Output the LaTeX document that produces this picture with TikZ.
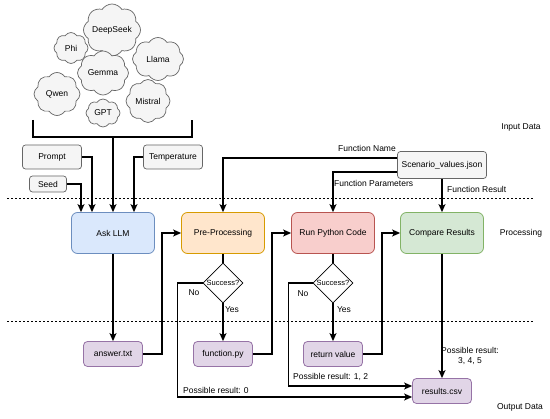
\documentclass[tikz,border=0pt]{standalone}
\usepackage{fontspec}
\setmainfont{Liberation Sans}
\usetikzlibrary{shapes.symbols,shapes.geometric,arrows.meta}
\definecolor{grayfill}{HTML}{F5F5F5}
\definecolor{grayline}{HTML}{666666}
\definecolor{bluefill}{HTML}{DAE8FC}
\definecolor{blueline}{HTML}{6C8EBF}
\definecolor{orangefill}{HTML}{FFE6CC}
\definecolor{orangeline}{HTML}{D79B00}
\definecolor{redfill}{HTML}{F8CECC}
\definecolor{redline}{HTML}{B85450}
\definecolor{greenfill}{HTML}{D5E8D4}
\definecolor{greenline}{HTML}{82B366}
\definecolor{purplefill}{HTML}{E1D5E7}
\definecolor{purpleline}{HTML}{9673A6}
\tikzset{
  cloudbox/.style={cloud, cloud puffs=8, cloud puff arc=115, cloud ignores aspect, draw=grayline, fill=grayfill, line width=0.7pt, inner sep=0pt},
  graybox/.style={draw=grayline, fill=grayfill, rounded corners=3pt, line width=0.7pt, minimum height=24pt, inner sep=2pt},
  procbox/.style={rounded corners=6pt, line width=0.8pt, minimum width=83pt, minimum height=41pt},
  outbox/.style={draw=purpleline, fill=purplefill, rounded corners=4pt, line width=0.8pt, minimum width=59pt, minimum height=25pt},
  decision/.style={diamond, draw=black, fill=white, line width=0.8pt, minimum width=40pt, minimum height=40pt, inner sep=0pt, font=\fontsize{7.5}{9}\selectfont},
  arr/.style={line width=1.2pt, -{Stealth[length=8pt,width=7pt,inset=2pt]}},
  plain/.style={line width=1.2pt},
  dotline/.style={line width=0.7pt, dash pattern=on 2pt off 2pt},
  lbl/.style={inner sep=0pt}
}
\begin{document}
\begin{tikzpicture}[x=1pt,y=-1pt, font=\fontsize{8.5}{10}\selectfont]
\useasboundingbox[fill=white] (0,0) rectangle (550,419);

% clouds
\node[cloudbox, minimum width=57pt, minimum height=52pt] (deepseek) at (112,30) {DeepSeek};
\node[cloudbox, minimum width=34pt, minimum height=31pt] (phi) at (71,48) {Phi};
\node[cloudbox, minimum width=51pt, minimum height=43pt] (llama) at (158,59) {Llama};
\node[cloudbox, minimum width=51pt, minimum height=44pt] (gemma) at (103,73) {Gemma};
\node[cloudbox, minimum width=46pt, minimum height=43pt] (qwen) at (57,94) {Qwen};
\node[cloudbox, minimum width=44pt, minimum height=43pt] (mistral) at (148,101) {Mistral};
\node[cloudbox, minimum width=34pt, minimum height=28pt] (gpt) at (103,113) {GPT};

% bracket
\coordinate (bl) at (33,120);
\coordinate (br) at (192,120);
\coordinate (bc) at (113,137);
\draw[plain] (bl) |- (bc) -| (br);

% inputs
\node[graybox, minimum width=59pt] (prompt) at (52,157) {Prompt};
\node[graybox, minimum width=37pt, minimum height=16pt] (seed) at (48,184) {Seed};
\node[graybox, minimum width=59pt] (temp) at (173,157) {Temperature};
\node[graybox, minimum width=89pt, minimum height=27pt] (scen) at (442,165) {Scenario\_values.json};

% separators
\coordinate (s1l) at (7,198);
\coordinate (s1r) at (533,198);
\coordinate (s2l) at (7,321);
\coordinate (s2r) at (533,321);
\draw[dotline] (s1l) -- (s1r);
\draw[dotline] (s2l) -- (s2r);

% processing
\node[procbox, draw=blueline, fill=bluefill] (ask) at (113,233) {Ask LLM};
\node[procbox, draw=orangeline, fill=orangefill] (pre) at (223,233) {Pre-Processing};
\node[procbox, draw=redline, fill=redfill] (run) at (333,233) {Run Python Code};
\node[procbox, draw=greenline, fill=greenfill] (cmp) at (442,233) {Compare Results};

\node[decision] (d1) at (223,283) {\makebox[0pt]{Success?}};
\node[decision] (d2) at (333,283) {\makebox[0pt]{Success?}};

% outputs
\node[outbox] (ans) at (113,354) {answer.txt};
\node[outbox] (fn) at (223,354) {function.py};
\node[outbox] (ret) at (333,354) {return value};
\node[outbox] (res) at (442,391) {results.csv};

% labels
\node[lbl] (inlbl) at (521,127) {Input Data};
\node[lbl] (proclbl) at (521,233) {Processing};
\node[lbl] (outlbl) at (520,407) {Output Data};
\node[lbl, anchor=east] (fname) at (396,148) {Function Name};
\node[lbl, anchor=west] (fparam) at (334,183) {Function Parameters};
\node[lbl, anchor=west] (fres) at (447,189) {Function Result};
\node[lbl] (no1) at (194,293) {No};
\node[lbl] (no2) at (303,294) {No};
\node[lbl] (yes1) at (232,310) {Yes};
\node[lbl] (yes2) at (344,310) {Yes};
\node[lbl, anchor=west] (pr0) at (183,390) {Possible result: 0};
\node[lbl, anchor=west] (pr12) at (293,377) {Possible result: 1, 2};
\node[lbl, align=center] (pr345) at (470,356) {Possible result:\\3, 4, 5};

% connectors into Ask LLM
\draw[arr] (seed.east) -| ([xshift=-32pt]ask.north);
\draw[arr] (prompt.east) -| ([xshift=-21pt]ask.north);
\draw[arr] (bc) -- (ask.north);
\draw[arr] (temp.west) -| ([xshift=21pt]ask.north);

% scenario connectors
\draw[arr] ([yshift=7pt]scen.west) -| (pre.north);
\draw[arr] ([yshift=-7pt]scen.west) -| (run.north);
\draw[arr] (scen.south) -- (cmp.north);

% flow
\draw[arr] (ask.south) -- (ans.north);
\draw[arr] (ans.east) -- ++(19,0) |- (pre.west);
\draw[plain] (pre.south) -- (d1.north);
\draw[arr] (d1.south) -- (fn.north);
\draw[arr] (fn.east) -- ++(19,0) |- (run.west);
\draw[plain] (run.south) -- (d2.north);
\draw[arr] (d2.south) -- (ret.north);
\draw[arr] (ret.east) -- ++(19,0) |- (cmp.west);
\draw[arr] (cmp.south) -- (res.north);
\draw[arr] (d1.west) -- ++(-25,0) |- ([yshift=-6pt]res.west);
\draw[arr] (d2.west) -- ++(-24,0) |- ([yshift=5pt]res.west);
\end{tikzpicture}
\end{document}
